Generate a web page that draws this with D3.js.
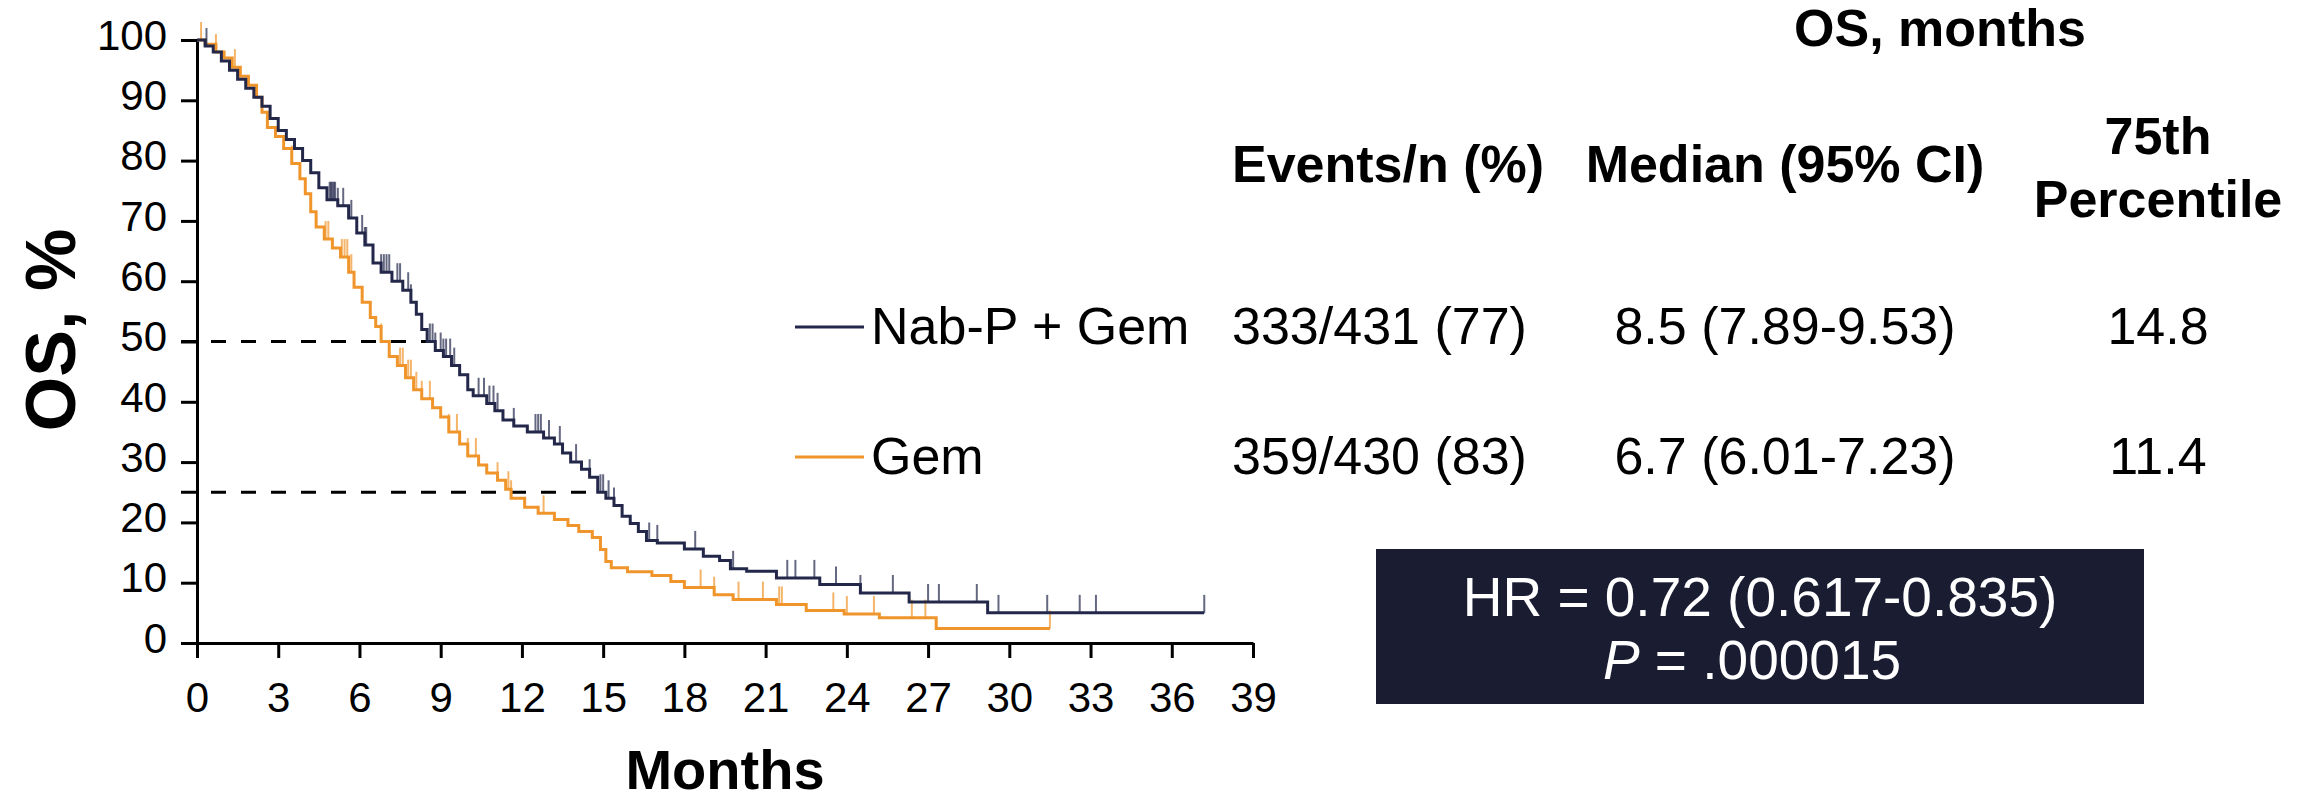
<!DOCTYPE html>
<meta charset="utf-8">

<!-- Load d3.js -->
<script src="https://d3js.org/d3.v7.min.js"></script>

<style>
  body { margin: 0; background: #fff; }
  text { font-family: "Liberation Sans", Arial, sans-serif; }
</style>

<div id="my_dataviz"></div>

<script>

    // Kaplan-Meier steps: month where the step starts, OS % after it
    var nabMonths = [0, 0.3, 0.6, 0.9, 1.2, 1.5, 1.8, 2.1, 2.4, 2.7, 3.0, 3.3, 3.6, 3.9, 4.2, 4.5, 4.8,
        5.2, 5.6, 5.9, 6.2, 6.5, 6.8, 7.2, 7.6, 7.9, 8.1, 8.3, 8.5, 8.8, 9.1, 9.4, 9.7, 10.0, 10.2,
        10.7, 11.0, 11.3, 11.7, 12.2, 12.8, 13.2, 13.5, 13.8, 14.2, 14.5, 14.8, 15.1, 15.4, 15.7,
        16.0, 16.3, 16.6, 17.0, 18.0, 18.7, 19.3, 19.7, 20.3, 21.4, 23.0, 24.5, 26.3, 29.2, 37.2];
    var nabOS = [100, 99, 98, 96.5, 95, 93.5, 92, 90.5, 89, 87, 85, 83.5, 82, 80, 78, 75.5, 73.5,
        72.5, 70.5, 68, 66, 63, 61.5, 60, 58.5, 56.5, 54.5, 52, 50, 48.5, 47.5, 46, 44.5, 42, 41,
        39.7, 38.5, 37, 36, 35, 34, 33, 31.5, 30, 28.8, 27.5, 25, 24, 22.8, 21,
        19.8, 18.5, 17, 16.6, 15.6, 14.4, 13.7, 12.3, 11.9, 10.8, 9.7, 8.3, 6.8, 5.0, 5.0];

    var gemMonths = [0, 0.3, 0.7, 1.0, 1.3, 1.6, 1.9, 2.2, 2.4, 2.6, 2.9, 3.2, 3.5, 3.8, 4.0, 4.2,
        4.4, 4.7, 5.0, 5.3, 5.6, 5.8, 6.1, 6.4, 6.6, 6.8, 7.1, 7.4, 7.7, 8.0, 8.3, 8.7, 9.0, 9.3,
        9.7, 10.0, 10.4, 10.7, 11.1, 11.4, 11.6, 12.1, 12.6, 13.2, 13.7, 14.1, 14.6, 14.9, 15.1,
        15.3, 15.9, 16.8, 17.5, 18.0, 19.1, 19.8, 21.4, 22.5, 23.9, 25.2, 27.3, 31.5];
    var gemOS = [100, 99.3, 98, 97, 95.5, 94, 92.5, 90.5, 88, 85.5, 84, 82, 79.5, 77, 74.5, 71.5,
        69, 67, 65.5, 64, 61.5, 59, 56.5, 54, 52.5, 50, 47.5, 46, 44, 42, 40.5, 39, 37.5, 35,
        33, 31, 29.5, 28.2, 27, 25.5, 24, 22.5, 21.5, 20.5, 19.5, 18.5, 17.5, 15.5, 13.5,
        12.5, 11.8, 11.2, 10.2, 9.2, 8.0, 7.2, 6.4, 5.4, 4.8, 4.2, 2.4, 2.4];

    // censored patients (months)
    var nabCensor = [0.35, 4.9, 4.95, 5.0, 5.05, 5.1, 5.2, 5.4, 5.7, 6.1, 6.2, 6.25, 6.8, 6.9, 7.0,
        7.1, 7.4, 7.5, 7.8, 7.9, 8.6, 8.7, 8.8, 9.0, 9.1, 9.2, 9.35, 9.5, 10.4, 10.6, 10.8, 10.95,
        11.1, 11.7, 12.5, 12.6, 12.7, 13.0, 13.4, 14.0, 14.5, 14.9, 15.0, 15.2, 15.4, 16.7, 17.0,
        18.4, 19.8, 21.8, 22.1, 22.8, 23.6, 24.5, 25.7, 27.0, 27.4, 28.8, 29.6, 31.4, 32.6, 33.2, 37.2];
    var gemCensor = [0.15, 0.7, 1.4, 3.5, 4.75, 4.85, 5.35, 5.45, 5.55, 5.7, 6.8, 7.5, 7.6, 7.8,
        7.9, 8.1, 8.3, 8.6, 9.3, 9.6, 10.0, 10.3, 11.1, 11.5, 11.6, 12.8, 18.6, 19.1, 20.0, 20.9,
        21.5, 21.6, 23.5, 24.0, 25.0, 26.4, 26.9, 31.5];

    var xTicks = [0, 3, 6, 9, 12, 15, 18, 21, 24, 27, 30, 33, 36, 39];
    var yTicks = [0, 10, 20, 30, 40, 50, 60, 70, 80, 90, 100];

    // table
    var groups = ["Nab-P + Gem", "Gem"];
    var colors = ["#23284b", "#f0952b"];
    var events = ["333/431 (77)", "359/430 (83)"];
    var medians = [8.5, 6.7];
    var medianCI = ["7.89-9.53", "6.01-7.23"];
    var p75 = [14.8, 11.4];
    var hrText = "HR = 0.72 (0.617-0.835)";
    var pText = ".000015";

    var margin = {top: 40, right: 1062, bottom: 160, left: 197},
        width = 2315 - margin.left - margin.right,
        height = 803 - margin.top - margin.bottom;

    var root = d3.select("#my_dataviz")
        .append("svg")
        .attr("width", 2315)
        .attr("height", 803);

    var svg = root.append("g")
        .attr("transform", "translate(" + margin.left + "," + margin.top + ")");

    var x = d3.scaleLinear().domain([0, 39]).range([0, width]);
    var y = d3.scaleLinear().domain([0, 100]).range([height, 0]);

    // dashed reference lines at 50% and 25%
    svg.append("line")
        .attr("x1", -16).attr("x2", x(d3.max(medians)))
        .attr("y1", y(50)).attr("y2", y(50))
        .attr("stroke", "#000").attr("stroke-width", 3).attr("stroke-dasharray", "15,15");
    svg.append("line")
        .attr("x1", -16).attr("x2", x(d3.max(p75)) + 3)
        .attr("y1", y(25)).attr("y2", y(25))
        .attr("stroke", "#000").attr("stroke-width", 3).attr("stroke-dasharray", "15,15");

    // X axis
    var xAxis = svg.append("g")
        .attr("transform", "translate(0," + height + ")")
        .call(d3.axisBottom(x).tickValues(xTicks).tickSize(15).tickSizeOuter(0).tickPadding(24));

    // Y axis
    var yAxis = svg.append("g")
        .call(d3.axisLeft(y).tickValues(yTicks).tickSize(16).tickSizeOuter(0).tickPadding(14));

    [xAxis, yAxis].forEach(function(a) {
        a.select(".domain").attr("stroke", "#000").attr("stroke-width", 3);
        a.selectAll(".tick line").attr("stroke", "#000").attr("stroke-width", 3);
        a.selectAll(".tick text").attr("font-size", 42).attr("fill", "#000")
            .style("font-family", "'Liberation Sans', Arial, sans-serif");
    });
    yAxis.selectAll(".tick text").attr("dy", "0.22em");

    // curves
    var series = [
        {months: nabMonths, os: nabOS, censor: nabCensor, color: colors[0]},
        {months: gemMonths, os: gemOS, censor: gemCensor, color: colors[1]}
    ];

    var line = d3.line()
        .curve(d3.curveStepAfter)
        .x(function(d) { return x(d[0]); })
        .y(function(d) { return y(d[1]); });

    function survAt(s, t) {
        var i = d3.bisectRight(s.months, t) - 1;
        return s.os[Math.max(0, i)];
    }

    // draw Gem first so Nab-P sits on top
    series.slice().reverse().forEach(function(s) {
        var pts = s.months.map(function(m, i) { return [m, s.os[i]]; });

        svg.selectAll(null)
            .data(s.censor)
            .enter()
            .append("line")
            .attr("x1", function(d) { return x(d); })
            .attr("x2", function(d) { return x(d); })
            .attr("y1", function(d) { return y(survAt(s, d)); })
            .attr("y2", function(d) { return y(survAt(s, d)) - 18; })
            .attr("stroke", s.color)
            .attr("stroke-opacity", 0.7)
            .attr("stroke-width", 2);

        svg.append("path")
            .datum(pts)
            .attr("fill", "none")
            .attr("stroke", s.color)
            .attr("stroke-width", 3)
            .attr("d", line);
    });

    // axis titles
    root.append("text")
        .attr("transform", "translate(75," + 330 + ") rotate(-90)")
        .attr("text-anchor", "middle")
        .attr("font-size", 70)
        .attr("font-weight", "bold")
        .text("OS, %");

    root.append("text")
        .attr("x", margin.left + width / 2)
        .attr("y", 789)
        .attr("text-anchor", "middle")
        .attr("font-size", 56)
        .attr("font-weight", "bold")
        .text("Months");

    // table headers
    var hdr = root.append("g").attr("font-weight", "bold").attr("font-size", 52);
    hdr.append("text").attr("x", 1940).attr("y", 46).attr("text-anchor", "middle").text("OS, months");
    hdr.append("text").attr("x", 1232).attr("y", 182).text("Events/n (%)");
    hdr.append("text").attr("x", 1785).attr("y", 182).attr("text-anchor", "middle").text("Median (95% CI)");
    hdr.append("text").attr("x", 2158).attr("y", 154).attr("text-anchor", "middle").text("75th");
    hdr.append("text").attr("x", 2158).attr("y", 217).attr("text-anchor", "middle").text("Percentile");

    // table rows with legend keys
    var rowY = [344, 474];
    groups.forEach(function(g, i) {
        var row = root.append("g").attr("font-size", 52).attr("fill", "#000");
        row.append("line")
            .attr("x1", 795).attr("x2", 864)
            .attr("y1", rowY[i] - 17).attr("y2", rowY[i] - 17)
            .attr("stroke", colors[i]).attr("stroke-width", 3);
        row.append("text").attr("x", 871).attr("y", rowY[i]).text(g);
        row.append("text").attr("x", 1232).attr("y", rowY[i]).text(events[i]);
        row.append("text").attr("x", 1785).attr("y", rowY[i]).attr("text-anchor", "middle")
            .text(medians[i].toFixed(1) + " (" + medianCI[i] + ")");
        row.append("text").attr("x", 2158).attr("y", rowY[i]).attr("text-anchor", "middle")
            .text(p75[i].toFixed(1));
    });

    // hazard ratio box
    root.append("rect")
        .attr("x", 1376).attr("y", 549)
        .attr("width", 768).attr("height", 155)
        .attr("fill", "#1a1d32");
    root.append("text")
        .attr("x", 1760).attr("y", 616)
        .attr("text-anchor", "middle")
        .attr("font-size", 55)
        .attr("fill", "#fff")
        .text(hrText);
    var pLine = root.append("text")
        .attr("x", 1752).attr("y", 679)
        .attr("text-anchor", "middle")
        .attr("font-size", 55)
        .attr("fill", "#fff");
    pLine.append("tspan").attr("font-style", "italic").text("P");
    pLine.append("tspan").text(" = " + pText);

</script>
